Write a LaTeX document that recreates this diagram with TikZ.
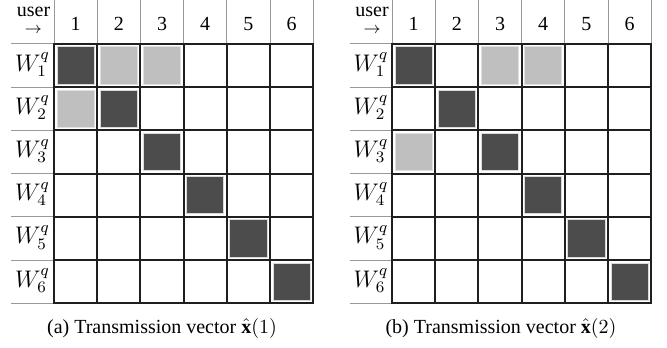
\documentclass[tikz,border=0pt]{standalone}
\usepackage{fontspec}
\setmainfont{Liberation Serif}
\newcommand\mytable[4]{%
  % #1 name prefix, #2 left end of label column, #3 grid left x, #4 light cells (row/col)
  \foreach \i in {0,...,6} \draw[thinline] ({#3+43.2*\i},0) -- ({#3+43.2*\i},44);
  \foreach \j in {0,...,6} \draw[thinline] (#2,{44+43.2*\j}) -- (#3,{44+43.2*\j});
  \foreach \j in {1,...,6} \draw[darkcell] ({#3+43.2*(\j-1)+3},{44+43.2*(\j-1)+3}) rectangle ({#3+43.2*\j-3},{44+43.2*\j-3});
  \foreach \r/\c in {#4} \draw[lightcell] ({#3+43.2*(\c-1)+3},{44+43.2*(\r-1)+3}) rectangle ({#3+43.2*\c-3},{44+43.2*\r-3});
  \foreach \i in {0,...,6} \draw[gridline] ({#3+43.2*\i},44) -- ({#3+43.2*\i},303.2);
  \foreach \j in {0,...,6} \draw[gridline] (#3,{44+43.2*\j}) -- ({#3+259.2},{44+43.2*\j});
  \node[lbl] (#1user) at ({(#2+#3)/2+1},11.5) {user};
  \node[arr] (#1arrow) at ({(#2+#3)/2+1},30) {$\rightarrow$};
  \foreach \i in {1,...,6} \node[lbl] (#1c\i) at ({#3+43.2*\i-21.6},24) {\i};
  \foreach \j in {1,...,6} \node[wlbl] (#1w\j) at ({(#2+#3)/2},{44+43.2*\j-22.6}) {$W_{\j}^{q}$};
}
\begin{document}
\begin{tikzpicture}[x=0.5pt,y=-0.5pt,
  thinline/.style={draw=black!40,line width=0.5pt},
  gridline/.style={draw=black!88,line width=1pt,line cap=rect},
  darkcell/.style={fill=black!70,draw=black!15,line width=0.5pt},
  lightcell/.style={fill=black!25,draw=black!12,line width=0.5pt},
  lbl/.style={inner sep=0pt,font=\fontsize{10}{12}\selectfont},
  wlbl/.style={inner sep=0pt,font=\fontsize{11.5}{13}\selectfont},
  arr/.style={inner sep=0pt,font=\fontsize{8}{10}\selectfont},
  captext/.style={inner sep=0pt,font=\fontsize{10}{12}\selectfont}]
\useasboundingbox (0,0) rectangle (667,347);
\mytable{a}{11}{54}{1/2,1/3,2/1}
\mytable{b}{350}{392}{1/3,1/4,3/1}
\node[captext] (capa) at (162,328) {(a) Transmission vector $\hat{\mathbf{x}}(1)$};
\node[captext] (capb) at (501,328) {(b) Transmission vector $\hat{\mathbf{x}}(2)$};
\end{tikzpicture}
\end{document}
